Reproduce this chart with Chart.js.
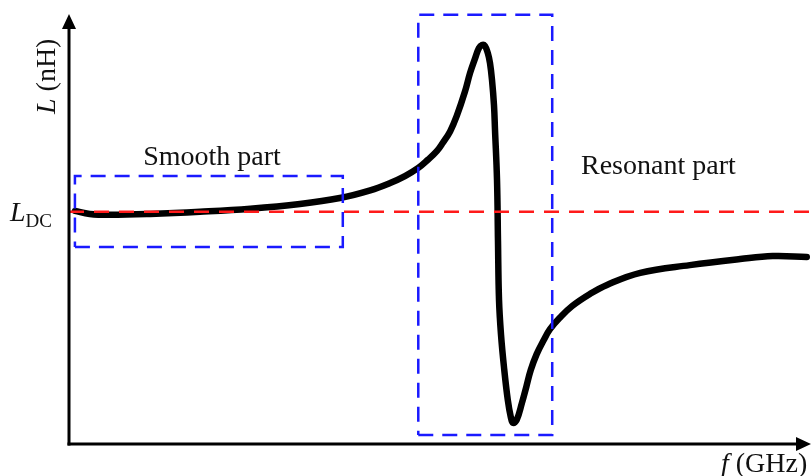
<!DOCTYPE html>
<html>
<head>
<meta charset="utf-8">
<script src="https://cdn.jsdelivr.net/npm/chart.js@4"></script>
<style>
  body { margin: 0; background: #fff; }
  canvas { display: block; }
</style>
</head>
<body>
<canvas id="myChart" width="811" height="476"></canvas>
<script>
// Inductance curve (arbitrary units, frequency 0..10, L 0..10)
let freq = [0.08, 0.28, 0.55, 1.10, 1.77, 2.45, 3.12, 3.66, 4.07, 4.34, 4.54, 4.72, 4.85, 4.97, 5.05, 5.15, 5.24, 5.35, 5.42, 5.49, 5.54, 5.58, 5.62, 5.66, 5.689, 5.716, 5.743, 5.757, 5.784, 5.797, 5.811, 5.838, 5.878, 5.93, 5.97, 6.00, 6.05, 6.12, 6.18, 6.24, 6.32, 6.41, 6.50, 6.64, 6.80, 7.04, 7.27, 7.72, 8.39, 9.07, 9.51, 9.97];
let induct = [5.42, 5.35, 5.33, 5.35, 5.40, 5.47, 5.58, 5.72, 5.90, 6.07, 6.23, 6.42, 6.61, 6.81, 7.00, 7.27, 7.63, 8.19, 8.63, 8.98, 9.21, 9.28, 9.26, 9.09, 8.86, 8.47, 7.88, 7.30, 6.14, 4.74, 3.35, 2.54, 1.79, 1.02, 0.63, 0.49, 0.56, 0.95, 1.33, 1.72, 2.09, 2.40, 2.67, 2.95, 3.21, 3.49, 3.70, 3.98, 4.16, 4.30, 4.37, 4.35];

// DC inductance level
let lDC = 5.40;

// dashed boxes: [xMin, xMax, yMin, yMax]
let smoothBox = [0.08, 3.70, 4.58, 6.23];
let resonantBox = [4.72, 6.53, 0.21, 9.98];

function boxPoints(b) {
  return [
    { x: b[0], y: b[2] }, { x: b[1], y: b[2] },
    { x: b[1], y: b[3] }, { x: b[0], y: b[3] },
    { x: b[0], y: b[2] }
  ];
}

let curve = freq.map((f, i) => ({ x: f, y: induct[i] }));

// axes with arrows and the labels
let decorations = {
  id: "decorations",
  afterDatasetsDraw(chart) {
    let c = chart.ctx;
    let a = chart.chartArea;
    c.save();
    c.strokeStyle = "#000";
    c.fillStyle = "#000";
    c.lineWidth = 3;
    // y axis
    c.beginPath();
    c.moveTo(a.left, a.bottom + 1.5);
    c.lineTo(a.left, a.top + 10);
    c.stroke();
    c.beginPath();
    c.moveTo(a.left, a.top);
    c.lineTo(a.left - 7, a.top + 15);
    c.lineTo(a.left + 7, a.top + 15);
    c.closePath();
    c.fill();
    // x axis
    c.beginPath();
    c.moveTo(a.left - 1.5, a.bottom);
    c.lineTo(811 - 10, a.bottom);
    c.stroke();
    c.beginPath();
    c.moveTo(811, a.bottom);
    c.lineTo(811 - 15, a.bottom - 7);
    c.lineTo(811 - 15, a.bottom + 7);
    c.closePath();
    c.fill();

    c.fillStyle = "#111";
    c.textBaseline = "alphabetic";
    c.font = "28px 'Liberation Serif'";
    c.textAlign = "center";
    c.fillText("Smooth part", 212, 165);
    c.textAlign = "left";
    c.fillText("Resonant part", 581, 174);

    // f (GHz)
    c.font = "italic 28px 'Liberation Serif'";
    c.fillText("f", 721, 472);
    let fw = c.measureText("f").width;
    c.font = "28px 'Liberation Serif'";
    c.fillText(" (GHz)", 721 + fw, 472);

    // L_DC
    c.font = "italic 28px 'Liberation Serif'";
    c.fillText("L", 10, 221);
    let lw = c.measureText("L").width;
    c.font = "19px 'Liberation Serif'";
    c.fillText("DC", 10 + lw, 227);

    // L (nH) rotated
    c.translate(55, 114);
    c.rotate(-Math.PI / 2);
    c.font = "italic 28px 'Liberation Serif'";
    c.fillText("L", 0, 0);
    let lw2 = c.measureText("L").width;
    c.font = "28px 'Liberation Serif'";
    c.fillText(" (nH)", lw2, 0);
    c.restore();
  }
};

let ctx = document.getElementById("myChart").getContext("2d");

let myChart = new Chart(ctx, {
  type: "line",
  data: {
    datasets: [
      {
        label: "DC",
        data: [{ x: 0, y: lDC }, { x: 10.03, y: lDC }],
        borderColor: "#ff1a1a",
        borderWidth: 2.5,
        borderDash: [15, 10],
        pointRadius: 0,
        clip: false,
        order: 1
      },
      {
        label: "Smooth",
        data: boxPoints(smoothBox),
        borderColor: "#1a1aff",
        borderWidth: 2.5,
        borderDash: [15, 9],
        pointRadius: 0,
        clip: false,
        order: 0
      },
      {
        label: "Resonant",
        data: boxPoints(resonantBox),
        borderColor: "#1a1aff",
        borderWidth: 2.5,
        borderDash: [15, 9],
        pointRadius: 0,
        clip: false,
        order: 0
      },
      {
        label: "L",
        data: curve,
        borderColor: "#000",
        borderWidth: 6.5,
        borderCapStyle: "round",
        borderJoinStyle: "round",
        tension: 0.4,
        pointRadius: 0,
        clip: false,
        order: 2
      }
    ]
  },
  options: {
    responsive: false,
    animation: false,
    layout: { padding: { left: 69, top: 14, right: 2, bottom: 32 } },
    plugins: { legend: { display: false }, tooltip: { enabled: false } },
    scales: {
      x: { type: "linear", min: 0, max: 10, display: false },
      y: { type: "linear", min: 0, max: 10, display: false }
    }
  },
  plugins: [decorations]
});
</script>
</body>
</html>
